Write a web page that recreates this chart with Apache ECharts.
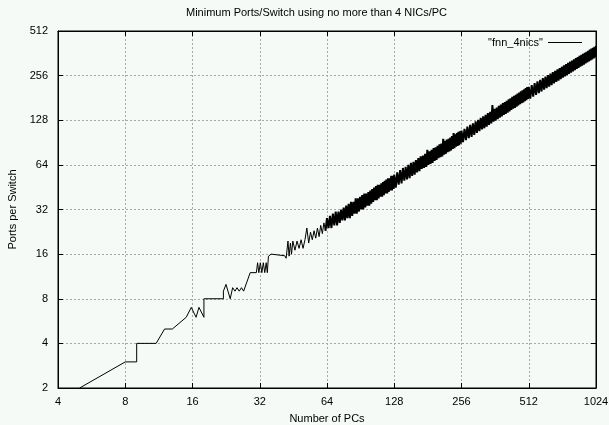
<!DOCTYPE html>
<html lang="en">
<head>
    <meta charset="UTF-8">
    <title>Minimum Ports/Switch</title>
    <script src="https://cdn.jsdelivr.net/npm/echarts@6/dist/echarts.min.js"></script>
    <style>
        html, body { margin: 0; padding: 0; background: #f5faf6; }
        #render-target { width: 609px; height: 425px; }
    </style>
</head>
<body>
    <div id="render-target"></div>
    <script>
        const titleText = "Minimum Ports/Switch using no more than 4 NICs/PC"
        const seriesName = '"fnn_4nics"'
        const xTicks = [4, 8, 16, 32, 64, 128, 256, 512, 1024]
        const yTicks = [2, 4, 8, 16, 32, 64, 128, 256, 512]

        // sparse part (up to 64 PCs), read point by point
        const pcsLow = [5, 8, 9, 9, 11, 12, 13, 15, 15.8, 16.6, 17.1, 18, 18, 22, 22, 22.6, 23.6, 24.2, 24.8, 25.3, 25.9, 26.5, 27.1,
            29, 30.9, 31.3, 31.7, 32.2, 32.7, 33.2, 33.7, 34.2, 34.6, 35, 36, 41.4, 42, 42.8, 43.3, 43.9, 44.4, 45,
            46, 47, 48, 49, 50, 51, 52, 53, 54, 55, 56, 57, 58, 59, 60, 61, 62, 63]
        const portsLow = [2, 3, 3, 4, 4, 5, 5, 6, 7, 6, 7, 6, 8, 8, 9, 10, 8, 9.5, 9, 9.5, 9, 9.5, 9,
            12, 12, 14, 12, 14, 12, 14, 12, 14, 12, 15.5, 16, 15.6, 15, 19.6, 15.5, 19, 16, 19.6,
            17, 19.6, 17.5, 20, 17.5, 20, 24, 19, 22.5, 20, 23, 20.5, 24, 21, 25, 22, 26, 23]

        // dense zig-zag part (64 PCs and up)
        const pcsDense = [64, 65, 66, 67, 68, 69, 70, 71, 72, 73, 74, 75, 76, 77, 78, 79, 80, 81, 82, 83, 84, 85, 86, 87, 88, 89, 90, 91, 92, 93, 94, 95,
            96, 97, 98, 99, 100, 101, 102, 103, 104, 105, 106, 107, 108, 109, 110, 111, 112, 113, 114, 115, 116, 117, 118, 119, 120, 121, 122, 123, 124, 125, 126, 127,
            128, 130, 132, 134, 136, 138, 140, 142, 144, 146, 148, 150, 152, 154, 156, 158, 160, 162, 164, 166, 168, 170, 172, 174, 176, 178, 180, 182, 184, 186, 188, 190,
            192, 194, 196, 198, 200, 202, 204, 206, 208, 210, 212, 214, 216, 218, 220, 222, 224, 226, 228, 230, 232, 234, 236, 238, 240, 242, 244, 246, 248, 250, 252, 254,
            256, 260, 264, 268, 272, 276, 280, 284, 288, 292, 296, 300, 304, 308, 312, 316, 320, 324, 328, 332, 336, 340, 344, 348, 352, 356, 360, 364, 368, 372, 376, 380,
            384, 388, 392, 396, 400, 404, 408, 412, 416, 420, 424, 428, 432, 436, 440, 444, 448, 452, 456, 460, 464, 468, 472, 476, 480, 484, 488, 492, 496, 500, 504, 508,
            512, 520, 528, 536, 544, 552, 560, 568, 576, 584, 592, 600, 608, 616, 624, 632, 640, 648, 656, 664, 672, 680, 688, 696, 704, 712, 720, 728, 736, 744, 752, 760,
            768, 776, 784, 792, 800, 808, 816, 824, 832, 840, 848, 856, 864, 872, 880, 888, 896, 904, 912, 920, 928, 936, 944, 952, 960, 968, 976, 984, 992, 1000, 1008, 1016, 1024]
        const portsDense = [28, 24, 29, 24, 30, 25, 31, 25, 31, 26, 32, 27, 33, 27, 34, 28, 35, 28, 36, 29, 36, 30, 38, 30, 38, 31, 39, 32, 40, 32, 41, 33,
            41, 34, 42, 34, 43, 35, 44, 36, 45, 37, 46, 37, 47, 38, 47, 39, 48, 39, 49, 40, 50, 41, 51, 41, 52, 42, 52, 43, 54, 43, 54, 44,
            55, 45, 57, 47, 59, 48, 61, 50, 62, 51, 64, 52, 66, 54, 67, 55, 69, 57, 71, 58, 73, 60, 74, 61, 76, 62, 81, 64, 79, 65, 81, 66,
            83, 68, 84, 69, 86, 71, 88, 72, 89, 73, 96, 75, 93, 76, 95, 78, 96, 79, 98, 80, 100, 82, 105, 83, 103, 85, 105, 86, 107, 87, 108, 89,
            109, 91, 112, 94, 116, 97, 119, 99, 122, 102, 126, 105, 129, 108, 133, 111, 136, 113, 139, 116, 143, 119, 146, 122, 162, 125, 153, 127, 156, 130, 160, 133,
            163, 136, 167, 139, 170, 141, 173, 144, 177, 147, 180, 150, 184, 153, 187, 155, 190, 158, 194, 161, 197, 164, 201, 167, 204, 169, 207, 172, 211, 175, 214, 178,
            215, 179, 221, 185, 228, 190, 234, 195, 240, 200, 246, 206, 252, 211, 258, 216, 264, 221, 270, 227, 276, 232, 282, 237, 288, 242, 294, 248, 300, 253, 306, 258,
            312, 263, 318, 268, 324, 273, 330, 279, 336, 284, 342, 289, 348, 294, 354, 299, 359, 304, 365, 309, 371, 314, 377, 319, 383, 324, 389, 329, 395, 334, 400, 339, 406]

        const lowData = pcsLow.map((n, i) => [n, portsLow[i]])
        const denseData = [lowData[lowData.length - 1]].concat(pcsDense.map((n, i) => [n, portsDense[i]]))

        const font = '"Liberation Sans", Arial, sans-serif'
        const gridLine = { show: true, lineStyle: { color: "#a8a8a8", type: [2, 2], width: 1 } }
        const tick = { show: true, inside: true, length: 5, lineStyle: { color: "#000" } }
        const axisLine = { show: true, lineStyle: { color: "#000", width: 1 } }
        const plain = v => String(Math.round(v))

        const logX = { type: "log", logBase: 2, min: xTicks[0], max: xTicks[xTicks.length - 1], splitNumber: 8 }
        const logY = { type: "log", logBase: 2, min: yTicks[0], max: yTicks[yTicks.length - 1], splitNumber: 8 }

        const lineSeries = (data, width) => ({
            name: seriesName,
            type: "line",
            xAxisIndex: 0, yAxisIndex: 0,
            data: data,
            showSymbol: false,
            symbol: "none",
            color: "#000",
            lineStyle: { color: "#000", width: width },
            itemStyle: { color: "#000" }
        })

        const chart = echarts.init(document.getElementById("render-target"))
        chart.setOption({
            animation: false,
            backgroundColor: "#f5faf6",
            textStyle: { fontFamily: font },
            title: {
                text: titleText,
                left: 186, top: 7, padding: 0,
                textStyle: { fontSize: 11, fontWeight: "normal", color: "#000", fontFamily: font }
            },
            legend: {
                data: [{ name: seriesName, icon: "rect" }],
                right: 27, top: 37, padding: 0,
                align: "right",
                itemWidth: 34, itemHeight: 1,
                textStyle: { fontSize: 11, color: "#000", fontFamily: font }
            },
            grid: {
                left: 58, right: 13, top: 31, bottom: 37,
                outerBoundsMode: "none", containLabel: false,
                show: true, borderColor: "#000", borderWidth: 1
            },
            xAxis: [
                Object.assign({}, logX, {
                    position: "bottom",
                    name: "Number of PCs", nameLocation: "middle", nameGap: 25,
                    nameTextStyle: { fontSize: 11, color: "#000", fontFamily: font },
                    axisLine: axisLine, axisTick: tick, splitLine: gridLine,
                    axisLabel: { fontSize: 11, color: "#000", margin: 8, fontFamily: font, formatter: plain }
                }),
                Object.assign({}, logX, {
                    position: "top",
                    axisLine: axisLine, axisTick: tick, splitLine: { show: false },
                    axisLabel: { show: false }
                })
            ],
            yAxis: [
                Object.assign({}, logY, {
                    position: "left",
                    name: "Ports per Switch", nameLocation: "middle", nameGap: 33,
                    nameTextStyle: { fontSize: 11, color: "#000", fontFamily: font },
                    axisLine: axisLine, axisTick: tick, splitLine: gridLine,
                    axisLabel: { fontSize: 11, color: "#000", margin: 10, fontFamily: font, formatter: plain }
                }),
                Object.assign({}, logY, {
                    position: "right",
                    axisLine: axisLine, axisTick: tick, splitLine: { show: false },
                    axisLabel: { show: false }
                })
            ],
            series: [lineSeries(lowData, 1), lineSeries(denseData, 2)]
        })
    </script>
</body>
</html>
